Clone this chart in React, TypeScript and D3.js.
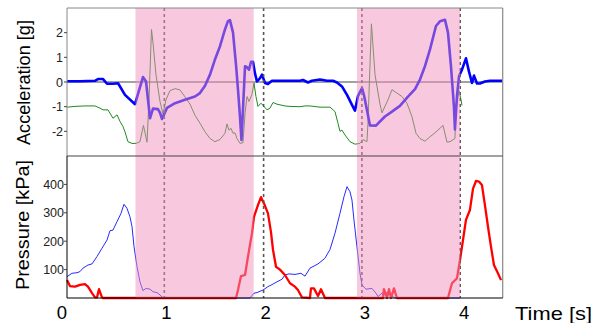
import React from "react";
import * as d3 from "d3";

// time [s], acceleration [g]
const accBlue: [number, number][] = [
  [0,0.03],[0.131,0.03],[0.282,0.05],[0.312,0.12],[0.363,0.12],[0.403,-0.07],[0.463,-0.07],[0.514,-0.05],[0.584,-0.52],[0.685,-0.9],[0.765,0.2],[0.796,0.02],[0.836,-1.47],[0.866,-1.08],[0.916,-1.1],[0.937,-1.25],[0.957,-1.5],[1.007,-1.05],[1.088,-0.86],[1.188,-0.72],[1.289,-0.59],[1.339,-0.45],[1.39,-0.15],[1.44,0.3],[1.49,0.91],[1.541,1.45],[1.591,2.13],[1.621,2.47],[1.641,2.51],[1.672,2.0],[1.702,0.7],[1.722,-0.3],[1.742,-1.4],[1.757,-2.35],[1.772,-1.13],[1.793,0.64],[1.813,0.6],[1.833,0.5],[1.853,0.82],[1.873,0.82],[1.893,0.35],[1.913,0.02],[1.944,0.16],[1.964,0.3],[1.994,-0.04],[2.024,-0.08],[2.064,0.05],[2.246,0.05],[2.346,0.05],[2.377,0.08],[2.427,-0.02],[2.467,0.05],[2.548,0.1],[2.618,0.05],[2.679,0.05],[2.719,-0.02],[2.769,-0.18],[2.82,-0.52],[2.87,-0.93],[2.9,-1.16],[2.931,-0.56],[2.971,-0.25],[2.991,-0.54],[3.021,-1.13],[3.051,-1.76],[3.112,-1.77],[3.152,-1.6],[3.202,-1.4],[3.273,-1.2],[3.353,-0.97],[3.434,-0.59],[3.505,-0.29],[3.555,0.1],[3.605,0.64],[3.656,1.32],[3.716,2.27],[3.756,2.46],[3.807,2.52],[3.837,2.0],[3.867,0.64],[3.897,-1.0],[3.907,-1.92],[3.927,-0.59],[3.948,0.23],[3.978,0.5],[4.018,0.96],[4.048,0.43],[4.079,-0.04],[4.099,0.26],[4.129,-0.06],[4.159,-0.06],[4.209,0.02],[4.26,0.05],[4.381,0.05]
];

const accGreen: [number, number][] = [
  [0,-1.02],[0.081,-0.99],[0.181,-0.97],[0.282,-0.97],[0.332,-1.06],[0.363,-1.13],[0.413,-1.13],[0.463,-1.47],[0.504,-1.33],[0.534,-1.6],[0.564,-1.81],[0.584,-2.02],[0.614,-2.42],[0.655,-2.49],[0.695,-2.49],[0.735,-2.42],[0.77,-1.76],[0.806,-2.44],[0.826,-0.72],[0.851,2.13],[0.866,1.59],[0.896,0.3],[0.937,-0.8],[0.967,-1.3],[0.997,-0.72],[1.037,-0.35],[1.088,-0.27],[1.138,-0.32],[1.188,-0.6],[1.239,-0.9],[1.289,-1.35],[1.339,-1.67],[1.39,-2.02],[1.44,-2.29],[1.49,-2.42],[1.541,-2.33],[1.591,-2.08],[1.611,-1.7],[1.631,-1.95],[1.652,-1.88],[1.672,-2.08],[1.692,-2.06],[1.712,-2.29],[1.742,-2.49],[1.772,-2.46],[1.793,-1.27],[1.813,-0.59],[1.833,-0.79],[1.863,-0.5],[1.883,-0.04],[1.903,-0.59],[1.923,-0.99],[1.954,-0.86],[1.984,-0.99],[2.014,-1.13],[2.044,-1.06],[2.075,-0.83],[2.115,-0.9],[2.195,-0.97],[2.246,-0.99],[2.346,-1.0],[2.397,-0.97],[2.447,-0.97],[2.548,-1.02],[2.649,-1.02],[2.699,-1.2],[2.729,-1.67],[2.749,-2.0],[2.769,-1.95],[2.8,-2.15],[2.85,-2.42],[2.9,-2.52],[2.951,-2.49],[2.981,-2.33],[3.021,-2.42],[3.031,-1.67],[3.066,2.36],[3.102,0.3],[3.152,-0.9],[3.172,-1.25],[3.233,-0.72],[3.273,-0.31],[3.323,-0.45],[3.374,-0.59],[3.424,-0.86],[3.474,-1.4],[3.515,-2.08],[3.555,-2.29],[3.605,-2.4],[3.656,-2.22],[3.706,-2.06],[3.787,-1.76],[3.827,-2.44],[3.857,-2.42],[3.907,-2.29],[3.917,-1.13],[3.948,-0.35],[3.968,-0.72],[3.978,-0.95]
];

// time [s], pressure [kPa]
const presBlue: [number, number][] = [
  [0,75],[0.05,87],[0.101,89],[0.131,93],[0.161,105],[0.211,116],[0.252,120],[0.302,146],[0.352,175],[0.403,204],[0.433,237],[0.463,239],[0.504,269],[0.544,298],[0.574,330],[0.604,316],[0.634,286],[0.655,251],[0.675,181],[0.705,110],[0.735,57],[0.765,26],[0.796,34],[0.836,31],[0.866,22],[0.906,19],[0.937,11],[0.967,0],[1.843,0],[1.883,17],[1.913,19],[1.974,28],[2.024,40],[2.064,47],[2.115,57],[2.165,66],[2.195,81],[2.236,85],[2.296,83],[2.356,87],[2.397,77],[2.447,105],[2.528,120],[2.598,140],[2.649,171],[2.699,228],[2.749,298],[2.79,357],[2.82,392],[2.85,374],[2.87,345],[2.89,275],[2.92,181],[2.951,87],[2.971,46],[3.011,31],[3.071,34],[3.112,17],[3.132,5],[3.172,17],[3.233,19],[3.273,7],[3.303,0],[3.958,0]
];

const presRed: [number, number][] = [
  [0,63],[0.03,42],[0.081,40],[0.131,46],[0.181,49],[0.211,40],[0.252,17],[0.282,2],[0.302,2],[0.322,31],[0.352,2],[0.363,0],[1.702,0],[1.722,28],[1.752,77],[1.793,81],[1.823,146],[1.863,228],[1.883,286],[1.923,327],[1.954,355],[1.984,333],[2.024,298],[2.054,233],[2.075,169],[2.105,110],[2.145,100],[2.195,81],[2.246,52],[2.296,40],[2.326,28],[2.367,2],[2.447,0],[2.457,34],[2.487,34],[2.528,7],[2.558,31],[2.598,0],[3.182,0],[3.192,31],[3.223,0],[3.243,31],[3.263,0],[3.293,34],[3.323,0],[3.837,0],[3.877,52],[3.927,69],[3.958,134],[3.988,204],[4.018,275],[4.058,310],[4.089,385],[4.119,412],[4.149,410],[4.179,398],[4.209,327],[4.24,251],[4.27,181],[4.3,116],[4.34,87],[4.371,63]
];

const phaseBands: [number, number][] = [[0.69, 1.88], [2.92, 3.96]];
const eventLines = [0.98, 1.98, 2.97, 3.96];
const timeTicks = [0, 1, 2, 3, 4];
const accTicks = [2, 1, 0, -1, -2];
const presTicks = [400, 300, 200, 100];

const FONT = "'Liberation Sans', Arial, sans-serif";

export default function App() {
  const L = 67, R = 502.7, T = 8, MID = 156, B = 298;
  const x = d3.scaleLinear().domain([0, 4.388]).range([L, R]);
  const yA = d3.scaleLinear().domain([-3, 3]).range([MID, T]);
  const yP = d3.scaleLinear().domain([0, 500]).range([B, MID]);

  const lineA = d3.line<[number, number]>().x(d => x(d[0])).y(d => yA(d[1]));
  const lineP = d3.line<[number, number]>().x(d => x(d[0])).y(d => yP(d[1]));

  return (
    <svg width={603} height={323} style={{ position: "absolute", left: 0, top: 0, background: "#fff" }} fontFamily={FONT}>
      {/* zero line */}
      <line x1={L} x2={R} y1={yA(0)} y2={yA(0)} stroke="#444" strokeWidth={1} />
      {/* curves */}
      <path d={lineA(accGreen) || ""} fill="none" stroke="#1f8a1f" strokeWidth={1} />
      <path d={lineA(accBlue) || ""} fill="none" stroke="#0000ff" strokeWidth={2.6} strokeLinejoin="round" />
      <path d={lineP(presBlue) || ""} fill="none" stroke="#2828ff" strokeWidth={1} />
      <path d={lineP(presRed) || ""} fill="none" stroke="#ff0000" strokeWidth={2.3} strokeLinejoin="round" />
      {/* event dashed lines */}
      {eventLines.map((t, i) => (
        <line key={i} x1={x(t)} x2={x(t)} y1={T} y2={B} stroke="#555" strokeWidth={1.6} strokeDasharray="3,3" />
      ))}
      {/* phase bands */}
      {phaseBands.map((b, i) => (
        <rect key={i} x={x(b[0])} y={T} width={x(b[1]) - x(b[0])} height={B - T} fill="#ef91bd" fillOpacity={0.5} />
      ))}
      {/* frames */}
      <line x1={L} x2={R} y1={T} y2={T} stroke="#888" strokeWidth={1} />
      <line x1={L} x2={L} y1={T} y2={MID} stroke="#888" strokeWidth={1} />
      <line x1={R} x2={R} y1={T} y2={B} stroke="#888" strokeWidth={1.2} />
      <line x1={L} x2={R} y1={MID} y2={MID} stroke="#444" strokeWidth={1} />
      <line x1={L} x2={L} y1={MID} y2={B} stroke="#000" strokeWidth={1} />
      <line x1={L} x2={R} y1={B} y2={B} stroke="#000" strokeWidth={1.2} />
      {/* y ticks acceleration */}
      {accTicks.map(v => (
        <g key={v}>
          <line x1={L - 3} x2={L} y1={yA(v)} y2={yA(v)} stroke="#444" />
          <text x={L - 4} y={yA(v)} dy="0.36em" textAnchor="end" fontSize={12.5} fill="#222">{v < 0 ? "-" + Math.abs(v) : v}</text>
        </g>
      ))}
      {/* y ticks pressure */}
      {presTicks.map(v => (
        <g key={v}>
          <line x1={L - 3} x2={L} y1={yP(v)} y2={yP(v)} stroke="#444" />
          <text x={L - 3} y={yP(v)} dy="0.36em" textAnchor="end" fontSize={12.5} fill="#222">{v}</text>
        </g>
      ))}
      {/* x tick labels */}
      {timeTicks.map((v, i) => (
        <text key={v} x={i === 0 ? L : x(v)} y={318.5} textAnchor={i === 0 ? "end" : "middle"} fontSize={18.5} fill="#000">{v}</text>
      ))}
      <text x={515} y={319.5} fontSize={19} textLength={77} lengthAdjust="spacingAndGlyphs" fill="#000">Time [s]</text>
      {/* axis titles */}
      <text transform={`translate(30,${82.5}) rotate(-90)`} textAnchor="middle" fontSize={18} textLength={125} lengthAdjust="spacingAndGlyphs" fill="#000">Acceleration [g]</text>
      <text transform={`translate(29,${225}) rotate(-90)`} textAnchor="middle" fontSize={18} textLength={130} lengthAdjust="spacingAndGlyphs" fill="#000">Pressure [kPa]</text>
    </svg>
  );
}
